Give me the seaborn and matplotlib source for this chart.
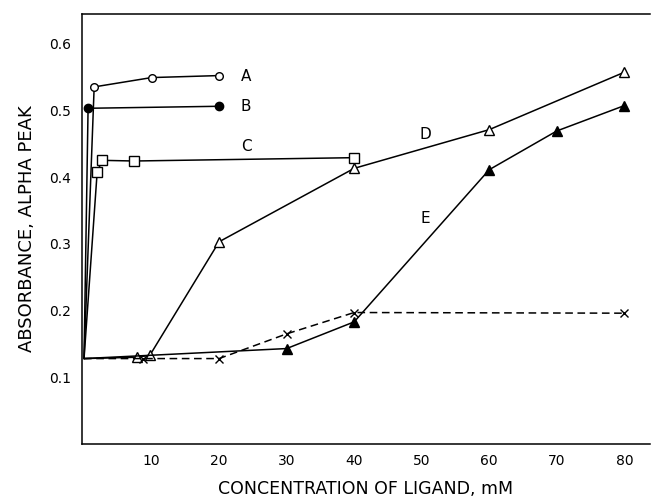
import matplotlib
matplotlib.use("Agg")
import matplotlib.pyplot as plt
import seaborn as sns
import pandas as pd

# ---- data ----
a_x = [0, 1.5, 10, 20]
a_y = [0.128, 0.535, 0.549, 0.552]
b_x = [0, 0.6, 20]
b_y = [0.128, 0.503, 0.506]
c_x = [0, 1.95, 2.7, 7.4, 40]
c_y = [0.128, 0.408, 0.425, 0.424, 0.429]
d_x = [0, 7.9, 9.75, 20, 40, 60, 80]
d_y = [0.128, 0.130, 0.133, 0.303, 0.413, 0.471, 0.557]
e_x = [0, 30, 40, 60, 70, 80]
e_y = [0.128, 0.143, 0.183, 0.411, 0.469, 0.507]
f_x = [0, 8.8, 20, 30, 40, 80]
f_y = [0.128, 0.128, 0.128, 0.165, 0.197, 0.196]

x_ticks = [10, 20, 30, 40, 50, 60, 70, 80]
y_ticks = [0.1, 0.2, 0.3, 0.4, 0.5, 0.6]
curve_labels = ["A", "B", "C", "D", "E"]
label_x = [24, 24, 24, 50.6, 50.5]
label_y = [0.551, 0.506, 0.445, 0.463, 0.338]

sns.set_theme(style="white")
plt.rcParams["font.family"] = ["DejaVu Sans"]

fig = plt.figure(figsize=(6.54, 5.01), dpi=100)
ax = fig.add_axes([82 / 654, 1 - 444 / 501, (650 - 82) / 654, (444 - 13.5) / 501])

series = [
    (a_x, a_y, dict(marker="o", mfc="white", mec="black", ms=5.5, ls="-")),
    (b_x, b_y, dict(marker="o", mfc="black", mec="black", ms=6, ls="-")),
    (c_x, c_y, dict(marker="s", mfc="white", mec="black", ms=6.5, ls="-")),
    (d_x, d_y, dict(marker="^", mfc="white", mec="black", ms=6.5, ls="-")),
    (e_x, e_y, dict(marker="^", mfc="black", mec="black", ms=6.5, ls="-")),
    (f_x, f_y, dict(marker="x", mfc="black", mec="black", ms=6, ls=(0, (5, 3)))),
]

for xs, ys, style in series:
    df = pd.DataFrame({"x": xs, "y": ys})
    ls = style.pop("ls")
    sns.lineplot(data=df, x="x", y="y", ax=ax, color="black", linewidth=1.1,
                 linestyle=ls, markevery=list(range(1, len(xs))),
                 mew=1.0, sort=False, estimator=None, legend=False, **style)

for lab, lx, ly in zip(curve_labels, label_x, label_y):
    ax.text(lx, ly, lab, fontsize=11, ha="center", va="center", color="black")

ax.set_xlim(-0.3, 83.8)
ax.set_ylim(0.0, 0.645)
ax.set_xticks(x_ticks)
ax.set_xticklabels([str(t) for t in x_ticks])
ax.set_yticks(y_ticks)
ax.set_yticklabels([f"{t:.1f}" for t in y_ticks])
ax.tick_params(axis="both", direction="in", length=7, width=1.0, color="black",
               labelsize=10, labelcolor="black")
ax.tick_params(axis="x", pad=7)
ax.tick_params(axis="y", pad=8)

for side in ["left", "bottom", "top"]:
    ax.spines[side].set_visible(True)
    ax.spines[side].set_color("black")
    ax.spines[side].set_linewidth(1.1)
ax.spines["right"].set_visible(False)

ax.set_xlabel("CONCENTRATION OF LIGAND, mM", fontsize=12.5, labelpad=9, color="black")
ax.set_ylabel("ABSORBANCE, ALPHA PEAK", fontsize=13, labelpad=9, color="black")
ax.grid(False)

fig.savefig("out.png", dpi=100)
